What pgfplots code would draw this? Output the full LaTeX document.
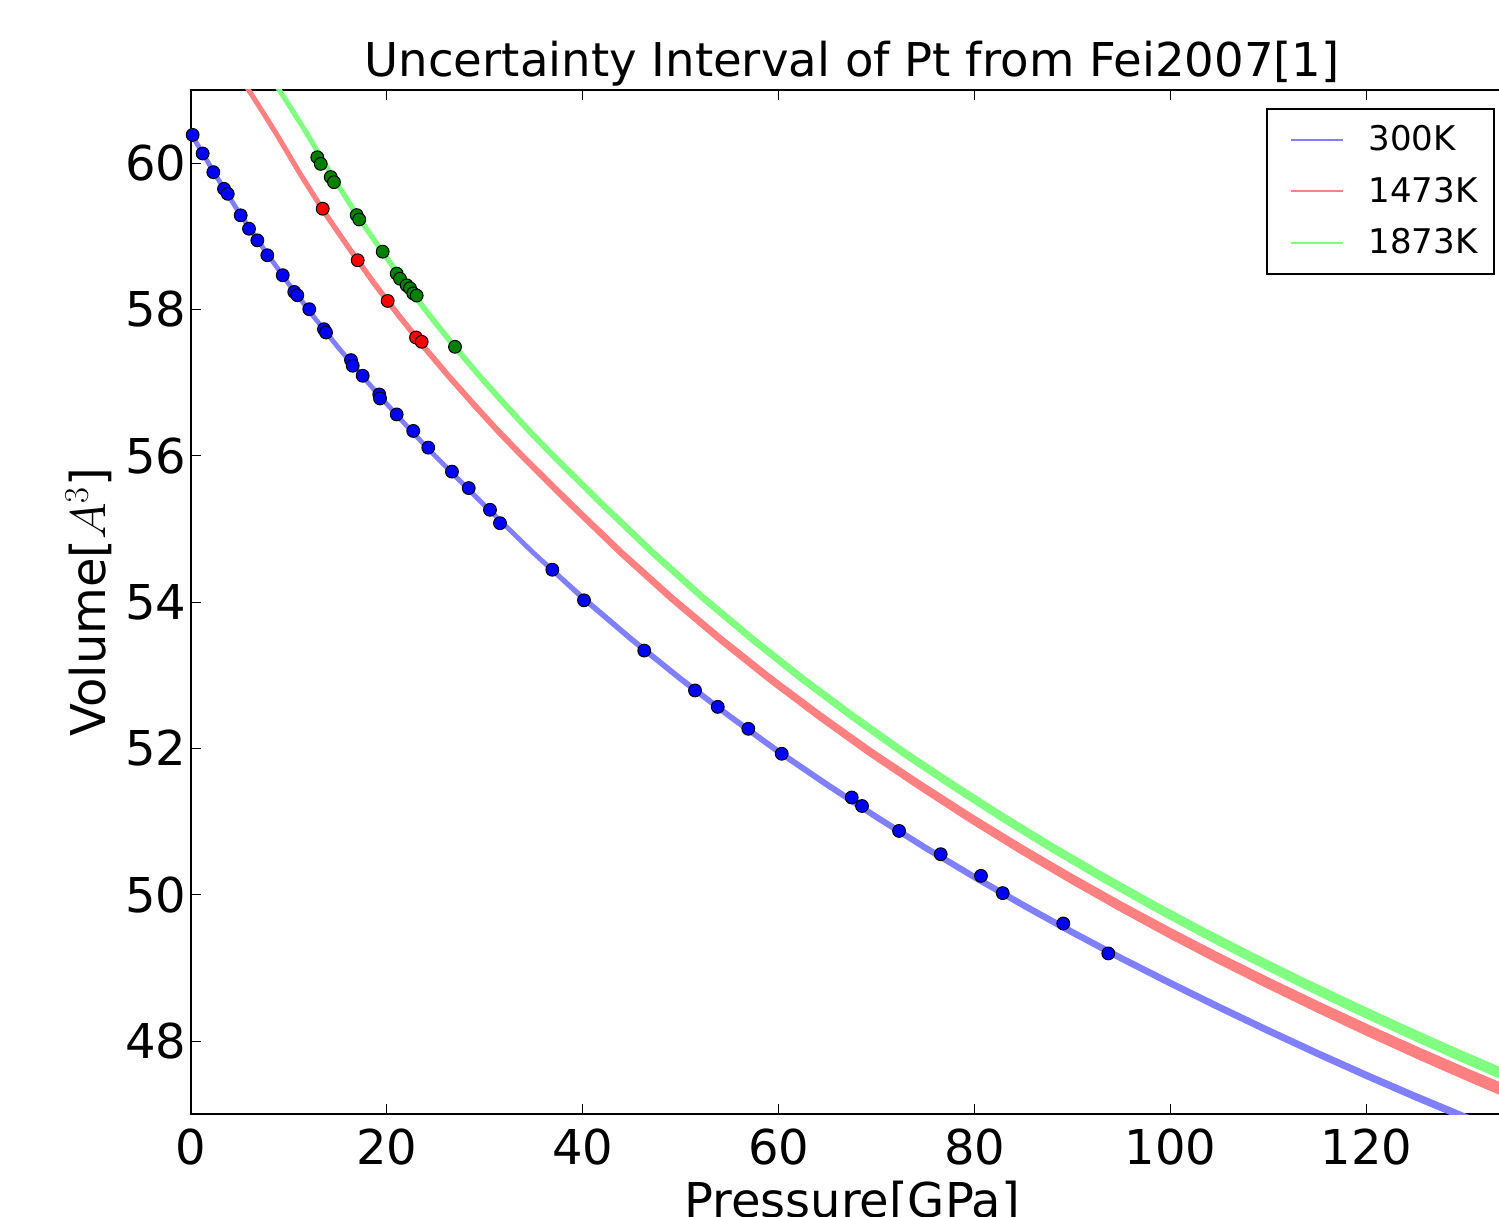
\documentclass[border=0pt]{standalone}
\usepackage{fontspec}
\setmainfont{DejaVu Sans}
\usepackage{pgfplots}
\pgfplotsset{compat=1.18}
\definecolor{bline}{RGB}{128,128,255}
\definecolor{rline}{RGB}{255,128,128}
\definecolor{gline}{RGB}{128,255,128}
\definecolor{gdot}{RGB}{0,128,0}

\begin{document}
\begin{tikzpicture}
\begin{axis}[
  at={(0,0)}, anchor=south west,
  scale only axis, width=661.5pt, height=512.15pt,
  xmin=0, xmax=135, ymin=47, ymax=61,
  xtick={0,20,...,120}, ytick={48,50,...,60},
  tick align=inside, major tick length=5pt,
  every tick/.style={black, line width=0.5pt},
  axis line style={line width=0.9pt},
  /pgf/number format/assume math mode=true,
  tick label style={font=\fontsize{24}{28}\selectfont},
  yticklabel style={inner xsep=0pt, xshift=-2pt},
  xticklabel style={inner ysep=0pt, yshift=-7pt},
  title={Uncertainty Interval of Pt from Fei2007[1]},
  title style={at={(axis description cs:0.5,1)}, anchor=base, yshift=0.5pt, font=\fontsize{23.3}{28}\selectfont},
  xlabel={Pressure[GPa]},
  xlabel style={at={(axis description cs:0.5,-0.1003)}, anchor=base, font=\fontsize{24}{28}\selectfont},
  ylabel={Volume[$A^3$]},
  ylabel style={at={(axis description cs:-0.0769,0.5)}, anchor=center, font=\fontsize{24}{28}\selectfont},
  legend style={at={(0.9859,0.9824)}, anchor=north east, draw=black, line width=0.9pt,
    font=\fontsize{17}{20}\selectfont, inner xsep=6.35pt, inner ysep=6.4pt, row sep=7.6pt},
  legend cell align=left,
]
% 300K band
\addplot[forget plot, draw=bline, fill=bline, line width=2.4pt, line join=round] coordinates {
(-1.35,60.70) (0,60.41) (2.5,59.845) (5,59.31) (7.5,58.82) (10,58.35) (12.5,57.91) (15,57.49) (17.5,57.09) (20,56.71) (22.5,56.34) (25,55.99) (30,55.32) (35,54.67) (40,54.066) (45,53.497) (50,52.958) (55,52.448) (60,51.964) (65,51.510) (70,51.071) (75,50.651) (80,50.252) (85,49.868) (90,49.499) (95,49.144) (100,48.805) (105,48.476) (110,48.157) (115,47.847) (120,47.548) (125,47.259) (130,46.980) (135,46.710) (140,46.451)
(140,46.409) (135,46.670) (130,46.941) (125,47.221) (120,47.512) (115,47.813) (110,48.124) (105,48.444) (100,48.775) (95,49.116) (90,49.472) (85,49.842) (80,50.228) (75,50.629) (70,51.050) (65,51.490) (60,51.946) (55,52.432) (50,52.942) (45,53.483) (40,54.054) (35,54.67) (30,55.32) (25,55.99) (22.5,56.34) (20,56.71) (17.5,57.09) (15,57.49) (12.5,57.91) (10,58.35) (7.5,58.82) (5,59.31) (2.5,59.845) (0,60.41) (-1.35,60.70)
} -- cycle;
% 1473K band
\addplot[forget plot, draw=rline, fill=rline, line width=2.4pt, line join=round] coordinates {
(4.48,61.302) (7.35,60.703) (8.70,60.414) (11.21,59.850) (13.73,59.316) (16.25,58.827) (18.76,58.358) (21.28,57.919) (23.79,57.500) (26.31,57.101) (28.83,56.722) (31.35,56.353) (33.88,56.004) (38.92,55.336) (43.97,54.688) (49.03,54.080) (54.09,53.512) (59.15,52.974) (64.22,52.466) (69.29,51.983) (74.36,51.530) (79.44,51.092) (84.53,50.674) (89.61,50.276) (94.70,49.893) (99.80,49.525) (104.90,49.172) (110.00,48.834) (115.11,48.506) (120.22,48.188) (125.33,47.880) (130.45,47.582) (135.57,47.294) (140.69,47.016)
(140.69,46.904) (135.57,47.186) (130.45,47.478) (125.33,47.780) (120.22,48.092) (115.11,48.414) (110.00,48.746) (104.90,49.088) (99.80,49.445) (94.70,49.817) (89.61,50.204) (84.53,50.606) (79.44,51.028) (74.36,51.470) (69.29,51.927) (64.22,52.414) (59.15,52.926) (54.09,53.468) (49.03,54.040) (43.97,54.652) (38.92,55.304) (33.88,55.976) (31.35,56.328) (28.83,56.698) (26.31,57.080) (23.79,57.480) (21.28,57.901) (18.76,58.342) (16.25,58.814) (13.73,59.304) (11.21,59.840) (8.70,60.406) (7.35,60.697) (4.48,61.298)
} -- cycle;
% 1873K band
\addplot[forget plot, draw=gline, fill=gline, line width=2.4pt, line join=round] coordinates {
(7.60,61.303) (10.47,60.704) (11.83,60.414) (14.35,59.850) (16.87,59.316) (19.39,58.827) (21.91,58.358) (24.43,57.919) (26.95,57.499) (29.48,57.100) (32.01,56.721) (34.54,56.352) (37.07,56.003) (42.13,55.335) (47.20,54.687) (52.28,54.078) (57.36,53.510) (62.44,52.972) (67.54,52.464) (72.63,51.980) (77.73,51.527) (82.84,51.089) (87.96,50.671) (93.07,50.273) (98.19,49.889) (103.33,49.521) (108.46,49.168) (113.60,48.830) (118.75,48.502) (123.90,48.183) (129.05,47.875) (134.21,47.577) (139.38,47.289)
(139.38,47.191) (134.21,47.483) (129.05,47.785) (123.90,48.097) (118.75,48.418) (113.60,48.750) (108.46,49.092) (103.33,49.449) (98.19,49.821) (93.07,50.207) (87.96,50.609) (82.84,51.031) (77.73,51.473) (72.63,51.930) (67.54,52.416) (62.44,52.928) (57.36,53.470) (52.28,54.042) (47.20,54.653) (42.13,55.305) (37.07,55.977) (34.54,56.328) (32.01,56.699) (29.48,57.080) (26.95,57.481) (24.43,57.901) (21.91,58.342) (19.39,58.813) (16.87,59.304) (14.35,59.840) (11.83,60.406) (10.47,60.696) (7.60,61.297)
} -- cycle;
% measured points
\addplot[forget plot, only marks, mark=*, mark size=3.2pt, mark options={draw=black, fill=blue, line width=0.5pt}] coordinates {
(0.20,60.386) (1.22,60.132) (2.31,59.877) (3.40,59.649) (3.78,59.581) (5.10,59.287) (5.95,59.104) (6.80,58.945) (7.82,58.741) (9.39,58.468) (10.57,58.240) (10.88,58.195) (12.10,58.004) (13.60,57.731) (13.81,57.685) (16.36,57.308) (16.53,57.231) (17.55,57.094) (19.24,56.839) (19.32,56.784) (21.02,56.566) (22.71,56.340) (24.24,56.112) (26.66,55.784) (28.37,55.559) (30.54,55.262) (31.56,55.079) (36.90,54.443) (40.13,54.025) (46.28,53.338) (51.46,52.793) (53.78,52.569) (56.90,52.269) (60.31,51.928) (67.45,51.330) (68.50,51.214) (72.28,50.873) (76.53,50.555) (80.64,50.259) (82.86,50.023) (89.04,49.608) (93.63,49.199)
};
\addplot[forget plot, only marks, mark=*, mark size=3.2pt, mark options={draw=black, fill=red, line width=0.5pt}] coordinates {
(13.47,59.377) (17.04,58.673) (20.10,58.117) (22.99,57.617) (23.57,57.558)
};
\addplot[forget plot, only marks, mark=*, mark size=3.2pt, mark options={draw=black, fill=gdot, line width=0.5pt}] coordinates {
(12.92,60.08) (13.27,59.99) (14.29,59.81) (14.62,59.74) (16.94,59.29) (17.20,59.23) (19.59,58.79) (21.02,58.49) (21.36,58.42) (22.04,58.33) (22.38,58.29) (22.71,58.22) (23.06,58.19) (26.97,57.49)
};
\addlegendimage{legend image code/.code={\path (0pt,0pt) (41.7pt,0pt); \draw[draw=bline, line width=0.8pt] (5.2pt,0pt) -- (31.2pt,0pt);}}
\addlegendentry{300K}
\addlegendimage{legend image code/.code={\path (0pt,0pt) (41.7pt,0pt); \draw[draw=rline, line width=0.8pt] (5.2pt,0pt) -- (31.2pt,0pt);}}
\addlegendentry{1473K}
\addlegendimage{legend image code/.code={\path (0pt,0pt) (41.7pt,0pt); \draw[draw=gline, line width=0.8pt] (5.2pt,0pt) -- (31.2pt,0pt);}}
\addlegendentry{1873K}
\end{axis}
\pgfresetboundingbox
\useasboundingbox (-95.35pt,-50.85pt) rectangle (654.15pt,557.15pt);
\end{tikzpicture}
\end{document}
